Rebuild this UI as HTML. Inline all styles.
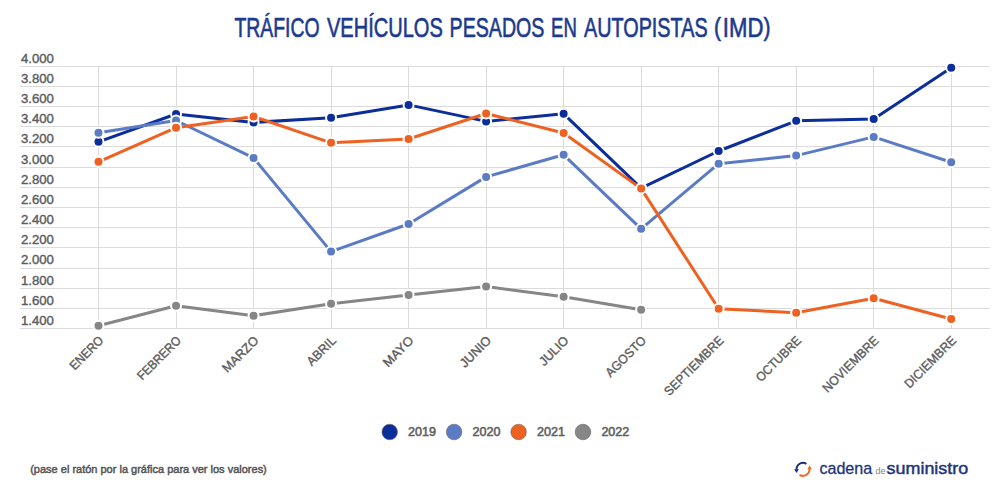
<!DOCTYPE html>
<html lang="es">
<head>
<meta charset="utf-8">
<title>Tráfico vehículos pesados en autopistas (IMD)</title>
<style>
html,body{margin:0;padding:0;background:#fff;}
body{width:1000px;height:500px;overflow:hidden;font-family:"Liberation Sans",sans-serif;}
svg{display:block;}
.yl{font-size:13px;fill:#5c5c5c;stroke:#5c5c5c;stroke-width:0.4px;}
.xl{font-size:12.7px;fill:#5c5c5c;stroke:#5c5c5c;stroke-width:0.4px;}
.lg{font-size:12px;fill:#606060;stroke:#606060;stroke-width:0.55px;}
.note{font-size:11.4px;fill:#555;stroke:#555;stroke-width:0.5px;}
.ttl{font-size:27.9px;fill:#1c3a8e;stroke:#1c3a8e;stroke-width:0.65px;}
.logo{fill:#1d3478;stroke:#1d3478;}
</style>
</head>
<body>
<svg width="1000" height="500" viewBox="0 0 1000 500" font-family="'Liberation Sans', sans-serif">
<rect width="1000" height="500" fill="#ffffff"/>
<g class="ttl">
<text x="234.4" y="36.6" textLength="85.2" lengthAdjust="spacingAndGlyphs">TRÁFICO</text>
<text x="327.0" y="36.6" textLength="115.8" lengthAdjust="spacingAndGlyphs">VEHÍCULOS</text>
<text x="449.6" y="36.6" textLength="94.8" lengthAdjust="spacingAndGlyphs">PESADOS</text>
<text x="551.0" y="36.6" textLength="25.8" lengthAdjust="spacingAndGlyphs">EN</text>
<text x="584.0" y="36.6" textLength="123.6" lengthAdjust="spacingAndGlyphs">AUTOPISTAS</text>
<text x="713.9" y="35.6" font-size="26" textLength="7" lengthAdjust="spacingAndGlyphs">(</text>
<text x="722.8" y="36.6" textLength="40.6" lengthAdjust="spacingAndGlyphs">IMD</text>
<text x="763.6" y="35.6" font-size="26" textLength="7" lengthAdjust="spacingAndGlyphs">)</text>
</g>
<g stroke="#dbdbdb" stroke-width="1" fill="none" shape-rendering="crispEdges">
<line x1="20" y1="66.5" x2="990" y2="66.5"/>
<line x1="20" y1="86.5" x2="990" y2="86.5"/>
<line x1="20" y1="106.5" x2="990" y2="106.5"/>
<line x1="20" y1="126.5" x2="990" y2="126.5"/>
<line x1="20" y1="146.5" x2="990" y2="146.5"/>
<line x1="20" y1="167.5" x2="990" y2="167.5"/>
<line x1="20" y1="187.5" x2="990" y2="187.5"/>
<line x1="20" y1="207.5" x2="990" y2="207.5"/>
<line x1="20" y1="227.5" x2="990" y2="227.5"/>
<line x1="20" y1="247.5" x2="990" y2="247.5"/>
<line x1="20" y1="268.5" x2="990" y2="268.5"/>
<line x1="20" y1="288.5" x2="990" y2="288.5"/>
<line x1="20" y1="308.5" x2="990" y2="308.5"/>
<line x1="20" y1="328.5" x2="990" y2="328.5"/>
<line x1="98.5" y1="66" x2="98.5" y2="329"/>
<line x1="176.5" y1="66" x2="176.5" y2="329"/>
<line x1="253.5" y1="66" x2="253.5" y2="329"/>
<line x1="331.5" y1="66" x2="331.5" y2="329"/>
<line x1="408.5" y1="66" x2="408.5" y2="329"/>
<line x1="486.5" y1="66" x2="486.5" y2="329"/>
<line x1="563.5" y1="66" x2="563.5" y2="329"/>
<line x1="641.5" y1="66" x2="641.5" y2="329"/>
<line x1="718.5" y1="66" x2="718.5" y2="329"/>
<line x1="796.5" y1="66" x2="796.5" y2="329"/>
<line x1="873.5" y1="66" x2="873.5" y2="329"/>
<line x1="951.5" y1="66" x2="951.5" y2="329"/>
</g>
<g class="yl">
<text x="20.9" y="62.80" textLength="33" lengthAdjust="spacingAndGlyphs">4.000</text>
<text x="20.9" y="82.97" textLength="33" lengthAdjust="spacingAndGlyphs">3.800</text>
<text x="20.9" y="103.13" textLength="33" lengthAdjust="spacingAndGlyphs">3.600</text>
<text x="20.9" y="123.29" textLength="33" lengthAdjust="spacingAndGlyphs">3.400</text>
<text x="20.9" y="143.46" textLength="33" lengthAdjust="spacingAndGlyphs">3.200</text>
<text x="20.9" y="163.62" textLength="33" lengthAdjust="spacingAndGlyphs">3.000</text>
<text x="20.9" y="183.79" textLength="33" lengthAdjust="spacingAndGlyphs">2.800</text>
<text x="20.9" y="203.95" textLength="33" lengthAdjust="spacingAndGlyphs">2.600</text>
<text x="20.9" y="224.12" textLength="33" lengthAdjust="spacingAndGlyphs">2.400</text>
<text x="20.9" y="244.28" textLength="33" lengthAdjust="spacingAndGlyphs">2.200</text>
<text x="20.9" y="264.45" textLength="33" lengthAdjust="spacingAndGlyphs">2.000</text>
<text x="20.9" y="284.62" textLength="33" lengthAdjust="spacingAndGlyphs">1.800</text>
<text x="20.9" y="304.78" textLength="33" lengthAdjust="spacingAndGlyphs">1.600</text>
<text x="20.9" y="324.94" textLength="33" lengthAdjust="spacingAndGlyphs">1.400</text>
</g>
<g class="xl" text-anchor="end">
<text transform="translate(101.20,338.34) rotate(-45)" x="0" y="4.3" textLength="41.6" lengthAdjust="spacingAndGlyphs">ENERO</text>
<text transform="translate(178.72,338.34) rotate(-45)" x="0" y="4.3" textLength="55.8" lengthAdjust="spacingAndGlyphs">FEBRERO</text>
<text transform="translate(256.24,338.34) rotate(-45)" x="0" y="4.3" textLength="45.2" lengthAdjust="spacingAndGlyphs">MARZO</text>
<text transform="translate(333.76,338.34) rotate(-45)" x="0" y="4.3" textLength="35.6" lengthAdjust="spacingAndGlyphs">ABRIL</text>
<text transform="translate(411.28,338.34) rotate(-45)" x="0" y="4.3" textLength="37.2" lengthAdjust="spacingAndGlyphs">MAYO</text>
<text transform="translate(488.80,338.34) rotate(-45)" x="0" y="4.3" textLength="37.9" lengthAdjust="spacingAndGlyphs">JUNIO</text>
<text transform="translate(566.32,338.34) rotate(-45)" x="0" y="4.3" textLength="35.6" lengthAdjust="spacingAndGlyphs">JULIO</text>
<text transform="translate(643.84,338.34) rotate(-45)" x="0" y="4.3" textLength="51.4" lengthAdjust="spacingAndGlyphs">AGOSTO</text>
<text transform="translate(721.36,338.34) rotate(-45)" x="0" y="4.3" textLength="77.9" lengthAdjust="spacingAndGlyphs">SEPTIEMBRE</text>
<text transform="translate(798.88,338.34) rotate(-45)" x="0" y="4.3" textLength="58.0" lengthAdjust="spacingAndGlyphs">OCTUBRE</text>
<text transform="translate(876.40,338.34) rotate(-45)" x="0" y="4.3" textLength="73.3" lengthAdjust="spacingAndGlyphs">NOVIEMBRE</text>
<text transform="translate(953.92,338.34) rotate(-45)" x="0" y="4.3" textLength="67.3" lengthAdjust="spacingAndGlyphs">DICIEMBRE</text>
</g>
<polyline points="98.50,141.80 176.02,114.00 253.54,122.40 331.06,117.80 408.58,104.90 486.10,121.40 563.62,113.80 641.14,188.20 718.66,151.00 796.18,120.80 873.70,119.10 951.22,67.80" fill="none" stroke="#0c2e9a" stroke-width="3" stroke-linejoin="round" stroke-linecap="round"/>
<g fill="#0c2e9a" stroke="#fff" stroke-width="2">
<circle cx="98.50" cy="141.80" r="5"/>
<circle cx="176.02" cy="114.00" r="5"/>
<circle cx="253.54" cy="122.40" r="5"/>
<circle cx="331.06" cy="117.80" r="5"/>
<circle cx="408.58" cy="104.90" r="5"/>
<circle cx="486.10" cy="121.40" r="5"/>
<circle cx="563.62" cy="113.80" r="5"/>
<circle cx="641.14" cy="188.20" r="5"/>
<circle cx="718.66" cy="151.00" r="5"/>
<circle cx="796.18" cy="120.80" r="5"/>
<circle cx="873.70" cy="119.10" r="5"/>
<circle cx="951.22" cy="67.80" r="5"/>
</g>
<polyline points="98.50,132.70 176.02,120.50 253.54,157.90 331.06,251.60 408.58,224.00 486.10,176.90 563.62,154.80 641.14,228.80 718.66,163.70 796.18,155.60 873.70,136.90 951.22,162.30" fill="none" stroke="#5b7cc4" stroke-width="3" stroke-linejoin="round" stroke-linecap="round"/>
<g fill="#5b7cc4" stroke="#fff" stroke-width="2">
<circle cx="98.50" cy="132.70" r="5"/>
<circle cx="176.02" cy="120.50" r="5"/>
<circle cx="253.54" cy="157.90" r="5"/>
<circle cx="331.06" cy="251.60" r="5"/>
<circle cx="408.58" cy="224.00" r="5"/>
<circle cx="486.10" cy="176.90" r="5"/>
<circle cx="563.62" cy="154.80" r="5"/>
<circle cx="641.14" cy="228.80" r="5"/>
<circle cx="718.66" cy="163.70" r="5"/>
<circle cx="796.18" cy="155.60" r="5"/>
<circle cx="873.70" cy="136.90" r="5"/>
<circle cx="951.22" cy="162.30" r="5"/>
</g>
<polyline points="98.50,161.80 176.02,127.70 253.54,116.40 331.06,142.80 408.58,139.00 486.10,113.50 563.62,133.00 641.14,188.60 718.66,308.70 796.18,312.80 873.70,298.20 951.22,319.00" fill="none" stroke="#ef6121" stroke-width="3" stroke-linejoin="round" stroke-linecap="round"/>
<g fill="#ef6121" stroke="#fff" stroke-width="2">
<circle cx="98.50" cy="161.80" r="5"/>
<circle cx="176.02" cy="127.70" r="5"/>
<circle cx="253.54" cy="116.40" r="5"/>
<circle cx="331.06" cy="142.80" r="5"/>
<circle cx="408.58" cy="139.00" r="5"/>
<circle cx="486.10" cy="113.50" r="5"/>
<circle cx="563.62" cy="133.00" r="5"/>
<circle cx="641.14" cy="188.60" r="5"/>
<circle cx="718.66" cy="308.70" r="5"/>
<circle cx="796.18" cy="312.80" r="5"/>
<circle cx="873.70" cy="298.20" r="5"/>
<circle cx="951.22" cy="319.00" r="5"/>
</g>
<polyline points="98.50,325.80 176.02,305.80 253.54,315.70 331.06,303.70 408.58,295.00 486.10,286.60 563.62,296.70 641.14,309.70" fill="none" stroke="#868686" stroke-width="3" stroke-linejoin="round" stroke-linecap="round"/>
<g fill="#868686" stroke="#fff" stroke-width="2">
<circle cx="98.50" cy="325.80" r="5"/>
<circle cx="176.02" cy="305.80" r="5"/>
<circle cx="253.54" cy="315.70" r="5"/>
<circle cx="331.06" cy="303.70" r="5"/>
<circle cx="408.58" cy="295.00" r="5"/>
<circle cx="486.10" cy="286.60" r="5"/>
<circle cx="563.62" cy="296.70" r="5"/>
<circle cx="641.14" cy="309.70" r="5"/>
</g>
<g class="lg">
<circle cx="389.7" cy="432" r="7.8" fill="#0c2e9a"/>
<text x="408.1" y="436.4" textLength="27.9" lengthAdjust="spacingAndGlyphs">2019</text>
<circle cx="454.1" cy="432" r="7.8" fill="#5b7cc4"/>
<text x="472.5" y="436.4" textLength="27.9" lengthAdjust="spacingAndGlyphs">2020</text>
<circle cx="518.6" cy="432" r="7.8" fill="#ef6121"/>
<text x="537.0" y="436.4" textLength="27.9" lengthAdjust="spacingAndGlyphs">2021</text>
<circle cx="583.0" cy="432" r="7.8" fill="#868686"/>
<text x="601.4" y="436.4" textLength="27.9" lengthAdjust="spacingAndGlyphs">2022</text>
</g>
<text class="note" x="30.2" y="473.3" textLength="236.6" lengthAdjust="spacingAndGlyphs">(pase el ratón por la gráfica para ver los valores)</text>
<g fill="none" stroke-width="2">
<path d="M806.44 463.79 A6.5 6.5 0 0 0 796.52 469.75" stroke="#1b2f7c"/>
<path d="M799.56 474.81 A6.5 6.5 0 0 0 809.48 468.85" stroke="#ee6a26"/>
</g>
<path d="M794.2 469.3 L798.9 469.3 L796.5 473.1 Z" fill="#1b2f7c"/>
<path d="M807.2 469.3 L811.9 469.3 L809.6 465.4 Z" fill="#ee6a26"/>
<g class="logo">
<text x="819.4" y="474.4" font-size="17" stroke-width="0.3" textLength="52.8" lengthAdjust="spacingAndGlyphs">cadena</text>
<text x="875.4" y="474.4" font-size="9" stroke-width="0" fill="#7f8596" textLength="10" lengthAdjust="spacingAndGlyphs">de</text>
<text x="886.6" y="474.4" font-size="17" stroke-width="0.45" textLength="81.6" lengthAdjust="spacingAndGlyphs">suministro</text>
</g>
</svg>
</body>
</html>
